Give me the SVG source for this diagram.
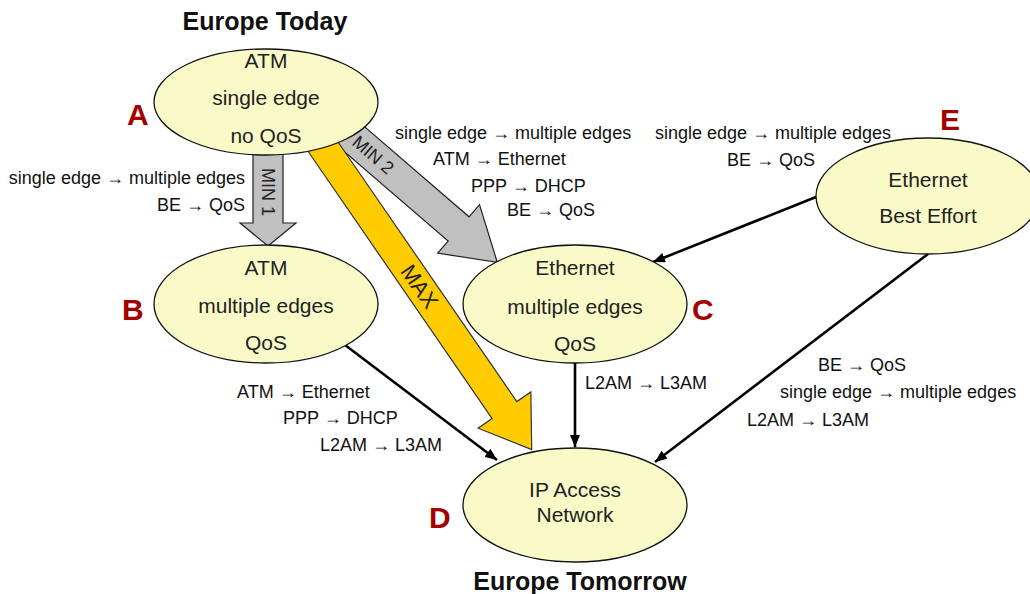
<svg xmlns="http://www.w3.org/2000/svg" width="1030" height="594" viewBox="0 0 1030 594">
<style>
  .node { fill: #fafac8; stroke: #111; stroke-width: 1.3; }
  .nt { font-family: "Liberation Sans", Arial, sans-serif; font-size: 21px; fill: #222; text-anchor: middle; }
  .lt { font-family: "Liberation Sans", Arial, sans-serif; font-size: 18px; fill: #111; }
  .let { font-family: "Liberation Sans", Arial, sans-serif; font-size: 30px; font-weight: bold; fill: #a50000; }
  .title { font-family: "Liberation Sans", Arial, sans-serif; font-size: 25px; font-weight: bold; fill: #111; text-anchor: middle; }
  .line { stroke: #000; stroke-width: 2.6; fill: none; marker-end: url(#ah); }
  .gray { fill: #c0c0c0; stroke: #222; stroke-width: 1.2; }
  .gold { fill: #ffcc00; stroke: #333; stroke-width: 1.2; }
  .al { font-family: "Liberation Sans", Arial, sans-serif; font-size: 18px; fill: #222; text-anchor: middle; dominant-baseline: central; }
</style>
<defs>
  <marker id="ah" markerUnits="userSpaceOnUse" markerWidth="13" markerHeight="10" refX="12" refY="5" orient="auto">
    <path d="M0,0 L12,5 L0,10 z" fill="#000"/>
  </marker>
</defs>

<text class="title" x="265" y="30">Europe Today</text>
<text class="title" x="580" y="590">Europe Tomorrow</text>

<g id="connectors">
  <g id="arrow-min1" transform="translate(268,150) rotate(90)">
    <path class="gray" d="M0,-15 L73,-15 L73,-28 L96,0 L73,28 L73,15 L0,15 Z"/>
    <text class="al" x="42" y="0">MIN 1</text>
  </g>
  <g id="arrow-min2" transform="translate(345,131) rotate(40.76)">
    <path class="gray" d="M0,-16 L150,-16 L150,-32 L201,0 L150,32 L150,16 L0,16 Z"/>
    <text class="al" x="37" y="0">MIN 2</text>
  </g>
  <g id="arrow-max" transform="translate(315,135) rotate(55.44)">
    <path class="gold" d="M0,-15 L334,-15 L334,-32 L382,0 L334,32 L334,15 L0,15 Z"/>
    <text class="al" x="184" y="0" style="font-size:22px">MAX</text>
  </g>
  <line class="line" x1="345" y1="345" x2="497" y2="460"/>
  <line class="line" x1="575" y1="362" x2="575" y2="447"/>
  <line class="line" x1="816" y1="197" x2="653" y2="262"/>
  <line class="line" x1="928" y1="254" x2="655" y2="462"/>

  <text class="lt" x="245" y="184" text-anchor="end">single edge → multiple edges</text>
  <text class="lt" x="245" y="211" text-anchor="end">BE → QoS</text>

  <text class="lt" x="395" y="139">single edge → multiple edges</text>
  <text class="lt" x="433" y="165">ATM → Ethernet</text>
  <text class="lt" x="471" y="192">PPP → DHCP</text>
  <text class="lt" x="507" y="216">BE → QoS</text>

  <text class="lt" x="773" y="139" text-anchor="middle">single edge → multiple edges</text>
  <text class="lt" x="771" y="166" text-anchor="middle">BE → QoS</text>

  <text class="lt" x="237" y="398">ATM → Ethernet</text>
  <text class="lt" x="283" y="424">PPP → DHCP</text>
  <text class="lt" x="320" y="451">L2AM → L3AM</text>

  <text class="lt" x="585" y="389">L2AM → L3AM</text>

  <text class="lt" x="818" y="371">BE → QoS</text>
  <text class="lt" x="780" y="398">single edge → multiple edges</text>
  <text class="lt" x="747" y="426">L2AM → L3AM</text>
</g>

<g id="node-A">
  <ellipse class="node" cx="266" cy="102" rx="112" ry="53"/>
  <text class="nt" x="266" y="68">ATM</text>
  <text class="nt" x="266" y="105">single edge</text>
  <text class="nt" x="266" y="143">no QoS</text>
  <text class="let" x="127" y="125">A</text>
</g>
<g id="node-B">
  <ellipse class="node" cx="266" cy="304" rx="112" ry="59"/>
  <text class="nt" x="266" y="275">ATM</text>
  <text class="nt" x="266" y="313">multiple edges</text>
  <text class="nt" x="266" y="350">QoS</text>
  <text class="let" x="122" y="320">B</text>
</g>
<g id="node-C">
  <ellipse class="node" cx="575" cy="304" rx="112" ry="59"/>
  <text class="nt" x="575" y="275">Ethernet</text>
  <text class="nt" x="575" y="314">multiple edges</text>
  <text class="nt" x="575" y="351">QoS</text>
  <text class="let" x="692" y="320">C</text>
</g>
<g id="node-D">
  <ellipse class="node" cx="575" cy="505" rx="112" ry="57"/>
  <text class="nt" x="575" y="497">IP Access</text>
  <text class="nt" x="575" y="522">Network</text>
  <text class="let" x="429" y="528">D</text>
</g>
<g id="node-E">
  <ellipse class="node" cx="928" cy="196" rx="112" ry="58"/>
  <text class="nt" x="928" y="187">Ethernet</text>
  <text class="nt" x="928" y="223">Best Effort</text>
  <text class="let" x="940" y="130">E</text>
</g>
</svg>
